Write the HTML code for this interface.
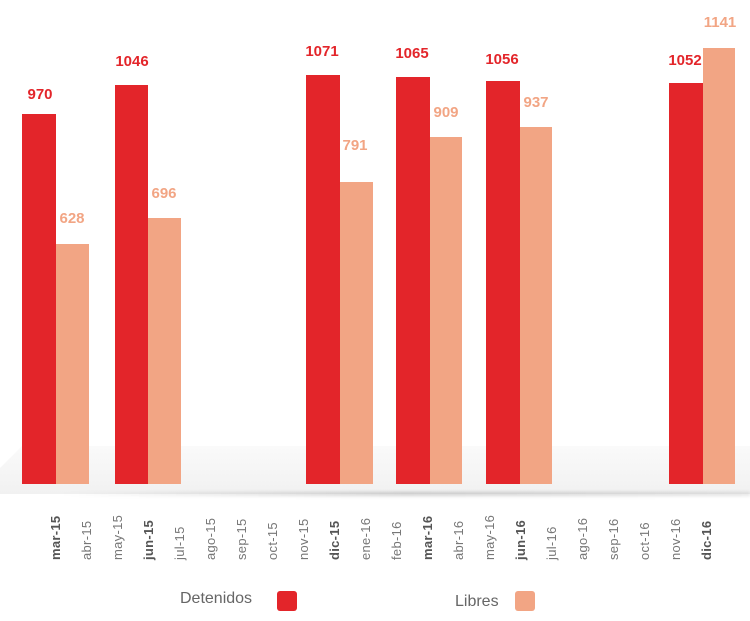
<!DOCTYPE html>
<html><head><style>
body{margin:0;width:750px;height:621px;background:#fff;position:relative;overflow:hidden;font-family:"Liberation Sans",sans-serif}
.p{position:absolute;left:0;top:446px;width:750px;height:48px;background:linear-gradient(#fafafa,#f1f1f1);clip-path:polygon(22px 0,750px 0,750px 100%,0 100%,0 22px)}
.sh{position:absolute;left:60px;top:492px;width:690px;height:4px;background:linear-gradient(90deg,rgba(0,0,0,0),rgba(0,0,0,.18) 50%,rgba(0,0,0,.1));filter:blur(1.5px)}
.b{position:absolute;bottom:137px}
.d{background:#e3252a}.l{background:#f2a584}
.v{position:absolute;font-weight:bold;font-size:15px;transform:translateX(-50%);}
.vd{color:#e3252a}.vl{color:#f2a584}
.x{position:absolute;top:560px;transform-origin:0 0;transform:rotate(-90deg);font-size:13px;color:#777;white-space:nowrap;letter-spacing:.3px}
.x b{color:#555}
</style></head><body>
<div class="p"></div><div class="sh"></div>
<div class="b d" style="left:22px;width:34px;top:114px"></div>
<div class="b l" style="left:56px;width:33px;top:244px"></div>
<div class="b d" style="left:115px;width:33px;top:85px"></div>
<div class="b l" style="left:148px;width:33px;top:218px"></div>
<div class="b d" style="left:306px;width:34px;top:75px"></div>
<div class="b l" style="left:340px;width:33px;top:182px"></div>
<div class="b d" style="left:396px;width:34px;top:77px"></div>
<div class="b l" style="left:430px;width:32px;top:137px"></div>
<div class="b d" style="left:486px;width:34px;top:81px"></div>
<div class="b l" style="left:520px;width:32px;top:127px"></div>
<div class="b d" style="left:669px;width:34px;top:83px"></div>
<div class="b l" style="left:703px;width:32px;top:48px"></div>
<div class="v vd" style="left:40px;top:86px">970</div>
<div class="v vl" style="left:72px;top:210px">628</div>
<div class="v vd" style="left:132px;top:53px">1046</div>
<div class="v vl" style="left:164px;top:185px">696</div>
<div class="v vd" style="left:322px;top:43px">1071</div>
<div class="v vl" style="left:355px;top:137px">791</div>
<div class="v vd" style="left:412px;top:45px">1065</div>
<div class="v vl" style="left:446px;top:104px">909</div>
<div class="v vd" style="left:502px;top:51px">1056</div>
<div class="v vl" style="left:536px;top:94px">937</div>
<div class="v vd" style="left:685px;top:52px">1052</div>
<div class="v vl" style="left:720px;top:14px">1141</div>
<div class="x" style="left:48px"><b>mar-15</b></div>
<div class="x" style="left:79px">abr-15</div>
<div class="x" style="left:110px">may-15</div>
<div class="x" style="left:141px"><b>jun-15</b></div>
<div class="x" style="left:172px">jul-15</div>
<div class="x" style="left:203px">ago-15</div>
<div class="x" style="left:234px">sep-15</div>
<div class="x" style="left:265px">oct-15</div>
<div class="x" style="left:296px">nov-15</div>
<div class="x" style="left:327px"><b>dic-15</b></div>
<div class="x" style="left:358px">ene-16</div>
<div class="x" style="left:389px">feb-16</div>
<div class="x" style="left:420px"><b>mar-16</b></div>
<div class="x" style="left:451px">abr-16</div>
<div class="x" style="left:482px">may-16</div>
<div class="x" style="left:513px"><b>jun-16</b></div>
<div class="x" style="left:544px">jul-16</div>
<div class="x" style="left:575px">ago-16</div>
<div class="x" style="left:606px">sep-16</div>
<div class="x" style="left:637px">oct-16</div>
<div class="x" style="left:668px">nov-16</div>
<div class="x" style="left:699px"><b>dic-16</b></div>
<div style="position:absolute;left:180px;top:590px;font-size:16px;color:#666">Detenidos</div>
<div style="position:absolute;left:277px;top:591px;width:20px;height:20px;border-radius:3px;background:#e3252a"></div>
<div style="position:absolute;left:455px;top:593px;font-size:16px;color:#666">Libres</div>
<div style="position:absolute;left:515px;top:591px;width:20px;height:20px;border-radius:3px;background:#f2a584"></div>
</body></html>
